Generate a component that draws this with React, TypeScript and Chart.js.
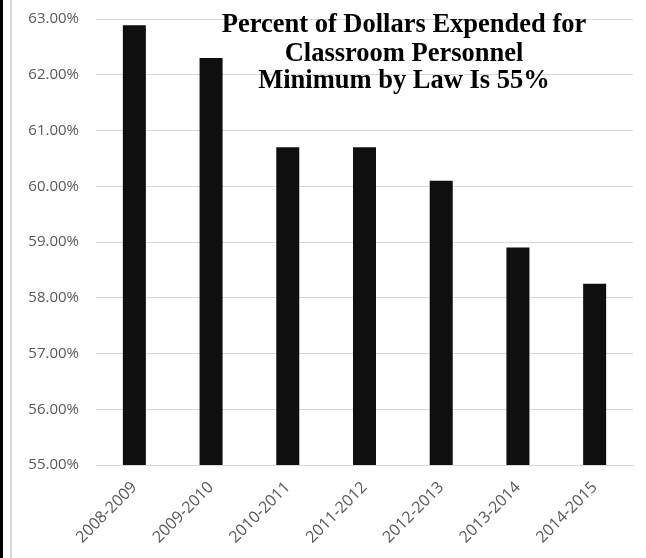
import React, { useEffect, useRef } from "react";
import { Chart, registerables } from "chart.js";

Chart.register(...registerables);

const categories = ["2008-2009", "2009-2010", "2010-2011", "2011-2012", "2012-2013", "2013-2014", "2014-2015"];
const values = [62.89, 62.3, 60.7, 60.7, 60.1, 58.9, 58.25];
const titleLines = ["Percent of Dollars Expended for", "Classroom Personnel", "Minimum by Law Is 55%"];
const yMin = 55;
const yMax = 63;

const titlePlugin = {
  id: "overlayTitle",
  afterDraw(chart: any) {
    const ctx = chart.ctx;
    ctx.save();
    ctx.fillStyle = "#000000";
    ctx.font = "bold 26.5px 'Liberation Serif', 'Times New Roman', serif";
    ctx.textAlign = "center";
    ctx.textBaseline = "alphabetic";
    const cx = 404;
    const baselines = [32, 60.5, 88];
    titleLines.forEach((line, i) => ctx.fillText(line, cx, baselines[i]));
    ctx.restore();
  },
};

export default function App() {
  const canvasRef = useRef<HTMLCanvasElement | null>(null);

  useEffect(() => {
    const canvas = canvasRef.current;
    if (!canvas) return;
    const chart = new Chart(canvas, {
      type: "bar",
      data: {
        labels: categories,
        datasets: [
          {
            data: values,
            backgroundColor: "#0f0f0f",
            borderWidth: 0,
            barPercentage: 0.3,
            categoryPercentage: 1,
          },
        ],
      },
      options: {
        responsive: false,
        animation: false,
        devicePixelRatio: 1,
        layout: { padding: { top: 19, right: 13, left: 0, bottom: 0 } },
        plugins: {
          legend: { display: false },
          tooltip: { enabled: false },
          title: { display: false },
        },
        scales: {
          x: {
            grid: { display: false, drawTicks: false },
            border: { display: true, color: "#d9d9d9", width: 1 },
            ticks: {
              minRotation: 45,
              maxRotation: 45,
              padding: 13,
              color: "#595959",
              font: { family: "'Open Sans', sans-serif", size: 16 },
            },
            afterFit(scale: any) {
              scale.height = 93;
              scale.paddingLeft = 0;
              scale.paddingRight = 0;
            },
          },
          y: {
            min: yMin,
            max: yMax,
            grid: { color: "#d9d9d9", lineWidth: 1, drawTicks: false },
            border: { display: false },
            ticks: {
              stepSize: 1,
              padding: 17,
              color: "#595959",
              font: { family: "'Open Sans', sans-serif", size: 15 },
              callback: (v: any) => Number(v).toFixed(2) + "%",
            },
            afterFit(scale: any) {
              scale.width = 96;
              scale.paddingTop = 0;
              scale.paddingBottom = 0;
            },
          },
        },
      },
      plugins: [titlePlugin],
    });
    return () => chart.destroy();
  }, []);

  return (
    <div style={{ position: "fixed", left: 0, top: 0, width: 646, height: 558, background: "#ffffff" }}>
      <canvas ref={canvasRef} width={646} height={558} style={{ position: "absolute", left: 0, top: 0 }} />
      <div style={{ position: "absolute", left: 0, top: 0, width: 3, height: 558, background: "#000000" }} />
      <div style={{ position: "absolute", left: 10, top: 0, width: 1.5, height: 558, background: "#d9d9d9" }} />
    </div>
  );
}
